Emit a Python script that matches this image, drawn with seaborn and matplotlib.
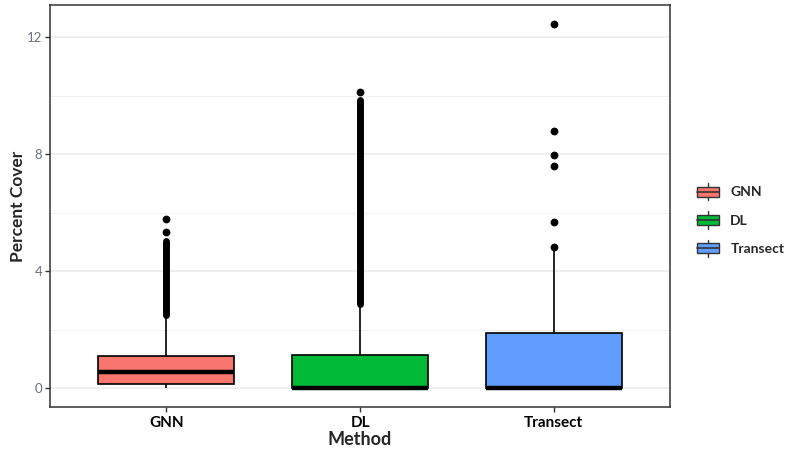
import numpy as np
import pandas as pd
import matplotlib
matplotlib.use("Agg")
import matplotlib.pyplot as plt
import seaborn as sns
from matplotlib.legend_handler import HandlerBase
from matplotlib.patches import Rectangle
from matplotlib.lines import Line2D

# ---- data ----
methods = ["GNN", "DL", "Transect"]
colors = ["#F8766D", "#00BA38", "#619CFF"]
whisker_low = [0.0, 0.0, 0.0]
box_q1 = [0.15, 0.0, 0.0]
box_median = [0.54, 0.0, 0.0]
box_q3 = [1.09, 1.13, 1.88]
whisker_high = [2.39, 2.77, 4.70]
# dense runs of outliers (so many points they merge into a column)
dense_low = [2.51, 2.87, None]
dense_high = [5.02, 9.85, None]
# individual outliers
fliers_gnn = [5.35, 5.78]
fliers_dl = [10.12]
fliers_transect = [4.82, 5.68, 7.59, 7.97, 8.79, 12.44]
yticks = [0, 4, 8, 12]

sns.set_theme(style="white")
plt.rcParams["font.family"] = ["Lato", "DejaVu Sans"]

summary = pd.DataFrame({
    "Method": np.repeat(methods, 5),
    "Percent Cover": np.ravel(np.column_stack(
        [whisker_low, box_q1, box_median, box_q3, whisker_high])),
})

fig = plt.figure(figsize=(7.85, 4.5), dpi=100)
ax = fig.add_axes([50 / 785, 1 - 407 / 450, 620 / 785, 402 / 450])

# grid (ggplot theme_bw look)
ax.set_axisbelow(True)
ax.set_yticks([2, 6, 10], minor=True)
ax.grid(True, which="major", color="#EBEBEB", lw=1.1)
ax.grid(True, which="minor", axis="y", color="#F2F2F2", lw=0.8)

sns.boxplot(data=summary, x="Method", y="Percent Cover", hue="Method",
            order=methods, hue_order=methods, palette=colors, saturation=1,
            whis=(0, 100), width=0.7, linecolor="black", linewidth=1.2,
            showcaps=False, showfliers=False, legend=False, ax=ax,
            medianprops=dict(color="black", linewidth=3.2, solid_capstyle="butt"),
            boxprops=dict(zorder=2), whiskerprops=dict(zorder=1.5))

# dense outlier columns
for i, (lo, hi) in enumerate(zip(dense_low, dense_high)):
    if lo is not None:
        ax.vlines(i, lo, hi, color="black", lw=5.0, capstyle="round", zorder=3)

fl = pd.DataFrame({
    "Method": ["GNN"] * len(fliers_gnn) + ["DL"] * len(fliers_dl)
    + ["Transect"] * len(fliers_transect),
    "Percent Cover": fliers_gnn + fliers_dl + fliers_transect,
})
sns.stripplot(data=fl, x="Method", y="Percent Cover", order=methods,
              jitter=False, color="black", size=5.6, linewidth=0, ax=ax,
              zorder=3)

ax.set_xlim(-0.6, 2.6)
ax.set_ylim(-0.65, 13.1)
ax.set_yticks(yticks)
ax.set_yticklabels([str(t) for t in yticks])

for s in ax.spines.values():
    s.set_color("#333333")
    s.set_linewidth(1.1)

ax.tick_params(axis="both", which="major", length=3.5, width=1,
               color="#333333", bottom=True, left=True)
ax.tick_params(axis="y", which="minor", length=0)
ax.tick_params(axis="y", labelsize=9.5, labelcolor="#6A7080", pad=2)
ax.tick_params(axis="x", labelsize=11, labelcolor="black", pad=3)
for lab in ax.get_xticklabels():
    lab.set_fontweight("bold")

ax.set_xlabel("Method", fontsize=13, fontweight="bold", labelpad=1)
ax.set_ylabel("Percent Cover", fontsize=12.5, fontweight="bold", labelpad=1)


class BoxKey(HandlerBase):
    def create_artists(self, legend, orig_handle, xdescent, ydescent,
                       width, height, fontsize, trans):
        fc = orig_handle.get_facecolor()
        x0, y0 = -xdescent, -ydescent
        xm = x0 + width / 2
        b0, b1 = y0 + height * 0.22, y0 + height * 0.78
        w1 = Line2D([xm, xm], [y0, b0], color="#333333", lw=1, transform=trans)
        w2 = Line2D([xm, xm], [b1, y0 + height], color="#333333", lw=1,
                    transform=trans)
        rect = Rectangle((x0, b0), width, b1 - b0, facecolor=fc,
                         edgecolor="#333333", lw=1, transform=trans)
        med = Line2D([x0, x0 + width], [y0 + height / 2] * 2, color="#333333",
                     lw=1.2, transform=trans)
        return [w1, w2, rect, med]


handles = [Rectangle((0, 0), 1, 1, facecolor=c) for c in colors]
leg = fig.legend(handles, methods, handler_map={Rectangle: BoxKey()},
                 loc="center left", bbox_to_anchor=(697 / 785, 1 - 220 / 450),
                 frameon=False, borderpad=0, borderaxespad=0,
                 handlelength=1.6, handleheight=1.55, labelspacing=0.78,
                 handletextpad=0.8, prop=dict(size=10, weight="bold"))

fig.savefig("out.png", dpi=100)
